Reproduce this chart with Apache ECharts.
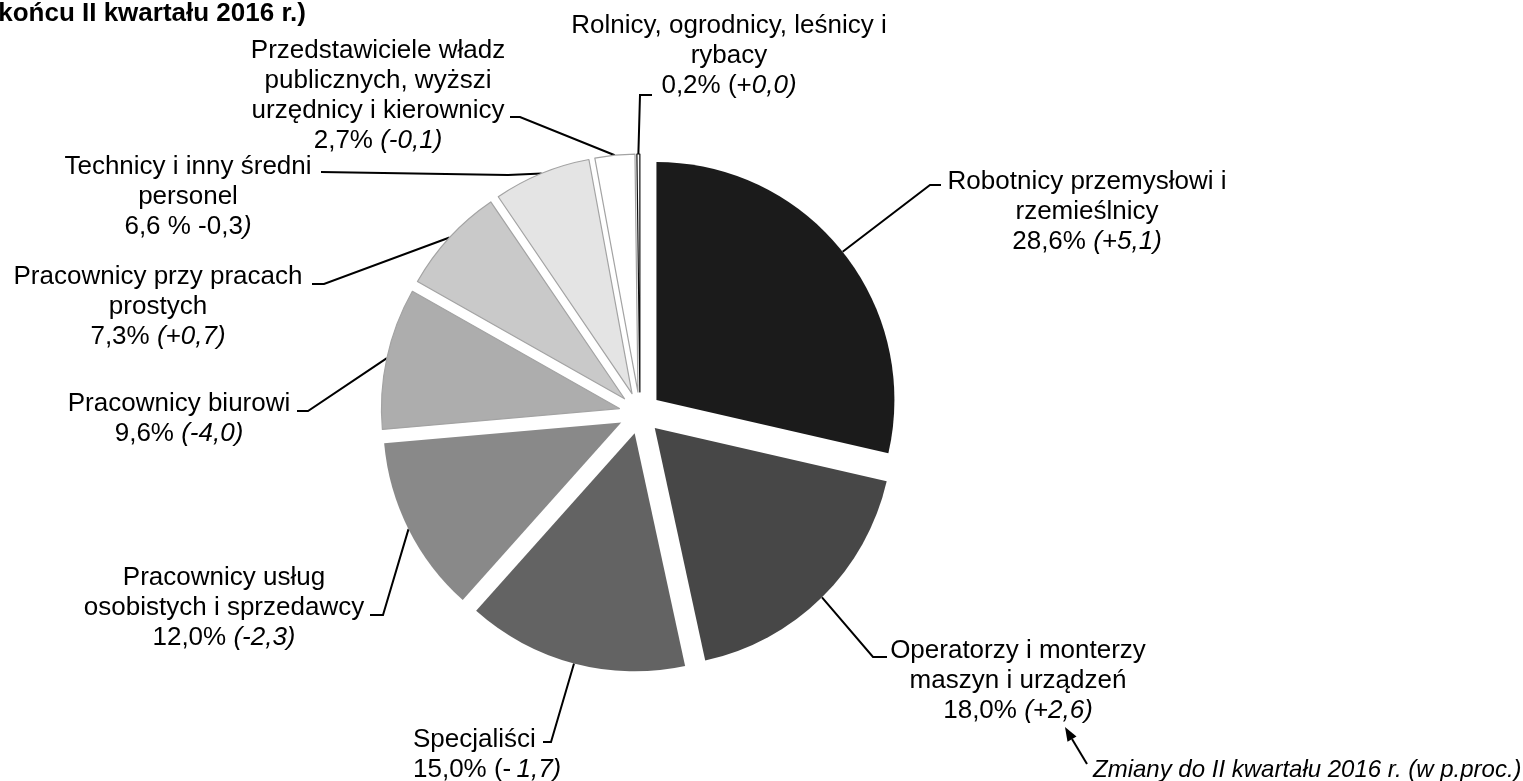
<!DOCTYPE html>
<html><head><meta charset="utf-8">
<script src="https://cdn.jsdelivr.net/npm/echarts@6/dist/echarts.min.js"></script>
<style>html,body{margin:0;padding:0;background:#fff}#c{width:1523px;height:781px}</style>
</head><body><div id="c"></div>
<script>
// ---- data ----
const categories = [
  'Robotnicy przemysłowi i\nrzemieślnicy',
  'Operatorzy i monterzy\nmaszyn i urządzeń',
  'Specjaliści',
  'Pracownicy usług\nosobistych i sprzedawcy',
  'Pracownicy biurowi',
  'Pracownicy przy pracach\nprostych',
  'Technicy i inny średni\npersonel',
  'Przedstawiciele władz\npublicznych, wyższi\nurzędnicy i kierownicy',
  'Rolnicy, ogrodnicy, leśnicy i\nrybacy'
];
const shares = [28.6, 18.0, 15.0, 12.0, 9.6, 7.3, 6.6, 2.7, 0.2];
const shareLabels = ['28,6%', '18,0%', '15,0%', '12,0%', '9,6%', '7,3%', '6,6 %', '2,7%', '0,2%'];
const changePlain = ['', '', '(-\u2009', '', '', '', '-0,3', '', '(+'];
const changeItalic = ['(+5,1)', '(+2,6)', '1,7)', '(-2,3)', '(-4,0)', '(+0,7)', ')', '(-0,1)', '0,0)'];
const titleText = 'końcu II kwartału 2016 r.)';
const noteText = 'Zmiany do II kwartału 2016 r. (w p.proc.)';

// ---- styling / layout ----
const colors = ['#1b1b1b', '#474747', '#636363', '#898989', '#adadad', '#c9c9c9', '#e4e4e4', '#ffffff', '#ffffff'];
const borders = [null, null, null, null, '#a3a3a3', '#a3a3a3', '#a3a3a3', '#a3a3a3', '#111111'];
const labelPos = [[1087, 167, 'center'], [1018, 636, 'center'], [413, 725, 'left'], [224, 563, 'center'],
  [179, 389, 'center'], [158, 262, 'center'], [188, 152, 'center'], [378, 36, 'center'], [729, 11, 'center']];
const leader = [[[930, 185], [941, 185]], [[873, 657], [887, 657]], [[551, 742], [543, 742]], [[383, 615], [370, 615]],
  [[308, 411], [297, 411]], [[324, 284], [312, 284]], [[508, 175], [321, 172]], [[520, 117], [510, 117]], [[640, 95], [652, 95]]];
const FONT = '"Liberation Sans", Arial, sans-serif';
const FS = 26, LH = 30;
const CX = 640, CY = 413, R = 238, EXPLODE = 21;

const total = shares.reduce((a, b) => a + b, 0);
let cum = 0;
const mids = shares.map(v => { const m = (cum + v / 2) / total * 2 * Math.PI; cum += v; return m; });

function labelText(i) {
  const lines = categories[i].split('\n').map(l => '{n|' + l + '}');
  let last = '{n|' + shareLabels[i] + ' }';
  if (changePlain[i]) last += '{n|' + changePlain[i] + '}';
  if (changeItalic[i]) last += '{i|' + changeItalic[i] + '}';
  lines.push(last);
  return lines.join('\n');
}

const lineStyle = { color: '#000', width: 2 };
const series = shares.map((_, i) => {
  const cx = CX + EXPLODE * Math.sin(mids[i]);
  const cy = CY - EXPLODE * Math.cos(mids[i]);
  const al = labelPos[i][2];
  const base = { fontSize: FS, fontFamily: FONT, color: '#000', lineHeight: LH, align: al };
  return {
    type: 'pie', center: [cx, cy], radius: [0, R], startAngle: 90, clockwise: true,
    silent: true, animation: false, avoidLabelOverlap: false, emphasis: { disabled: true },
    data: shares.map((v, j) => j === i
      ? { value: v, name: categories[j], itemStyle: { color: colors[j], borderColor: borders[j] || colors[j], borderWidth: borders[j] ? 1.2 : 0 },
          label: { show: true }, labelLine: { show: true, lineStyle: lineStyle } }
      : { value: v, name: categories[j], itemStyle: { color: 'rgba(0,0,0,0)', borderWidth: 0 },
          label: { show: false }, labelLine: { show: false } }),
    label: { position: 'outside', formatter: () => labelText(i), color: '#000',
      rich: { n: Object.assign({}, base), i: Object.assign({ fontStyle: 'italic' }, base) } },
    labelLine: { length: 10, length2: 10, smooth: false, lineStyle: lineStyle },
    labelLayout: (p) => {
      if (p.dataIndex !== i) return {};
      const edge = [cx + R * Math.sin(mids[i]), cy - R * Math.cos(mids[i])];
      return { x: labelPos[i][0], y: labelPos[i][1], align: al, verticalAlign: 'top',
        labelLinePoints: [edge, leader[i][0].slice(), leader[i][1].slice()] };
    }
  };
});

const chart = echarts.init(document.getElementById('c'), null, { renderer: 'canvas' });
chart.setOption({
  backgroundColor: '#fff',
  animation: false,
  series: series,
  graphic: [
    { type: 'text', x: 306, y: 14, style: { text: titleText, fill: '#000', font: 'bold 26px ' + FONT, align: 'right', verticalAlign: 'middle' } },
    { type: 'text', x: 1093, y: 770, style: { text: noteText, fill: '#000', font: 'italic 24px ' + FONT, align: 'left', verticalAlign: 'middle' } },
    { type: 'line', shape: { x1: 1087, y1: 764, x2: 1072, y2: 739 }, style: { stroke: '#000', lineWidth: 2 } },
    { type: 'polygon', shape: { points: [[1065, 727], [1076.5, 736.5], [1067.5, 741.8]] }, style: { fill: '#000' } }
  ]
});
</script></body></html>
